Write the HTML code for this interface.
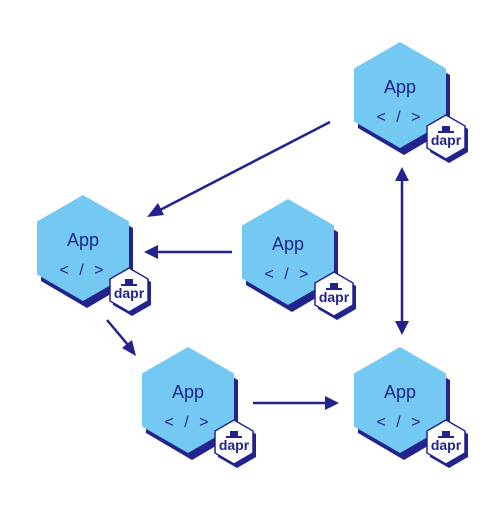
<!DOCTYPE html>
<html><head><style>
html,body{margin:0;padding:0;background:#fff;}
</style></head><body>
<svg width="500" height="500" viewBox="0 0 500 500" xmlns="http://www.w3.org/2000/svg">
<defs>
<g id="app">
  <polygon points="4,-46 50,-20 50,33 4,60 -42,33 -42,-20" fill="#23238e"/>
  <polygon points="0,-53 46,-26.5 46,26.5 0,53 -46,26.5 -46,-26.5" fill="#73c9f1"/>
  <text x="0" y="-2" text-anchor="middle" font-family="Liberation Sans, sans-serif" font-size="18" fill="#23238e">App</text>
  <text x="0" y="27" text-anchor="middle" font-family="Liberation Sans, sans-serif" font-size="16" fill="#23238e" letter-spacing="3">&lt; / &gt;</text>
  <g transform="translate(46,42)">
    <polygon points="3,-19 22,-8 22,15 3,26 -16,15 -16,-8" fill="#23238e"/>
    <polygon points="0,-22 19,-11 19,11 0,22 -19,11 -19,-11" fill="#fff" stroke="#23238e" stroke-width="1.5"/>
    <rect x="-4" y="-11" width="8" height="6" fill="#23238e"/>
    <rect x="-8" y="-6" width="16" height="2" fill="#23238e"/>
    <text x="0" y="8" text-anchor="middle" font-family="Liberation Sans, sans-serif" font-weight="bold" font-size="14" fill="#23238e">dapr</text>
  </g>
</g>
</defs>
<use href="#app" x="83" y="248"/>
<use href="#app" x="288" y="252"/>
<use href="#app" x="400" y="95"/>
<use href="#app" x="188" y="400"/>
<use href="#app" x="400" y="400"/>
<g stroke="#23238e" stroke-width="2.5" fill="#23238e">
  <line x1="330" y1="122" x2="160" y2="210"/>
  <polygon points="147,217 158,203 164,215" stroke="none"/>
  <line x1="232" y1="252" x2="157" y2="252"/>
  <polygon points="144,252 158,245 158,259" stroke="none"/>
  <line x1="107" y1="320" x2="128" y2="345"/>
  <polygon points="136,356 122,348 132,340" stroke="none"/>
  <line x1="253" y1="403" x2="326" y2="403"/>
  <polygon points="339,403 325,396 325,410" stroke="none"/>
  <line x1="402" y1="180" x2="402" y2="322"/>
  <polygon points="402,167 395,181 409,181" stroke="none"/>
  <polygon points="402,335 395,321 409,321" stroke="none"/>
</g>
</svg>
</body></html>
